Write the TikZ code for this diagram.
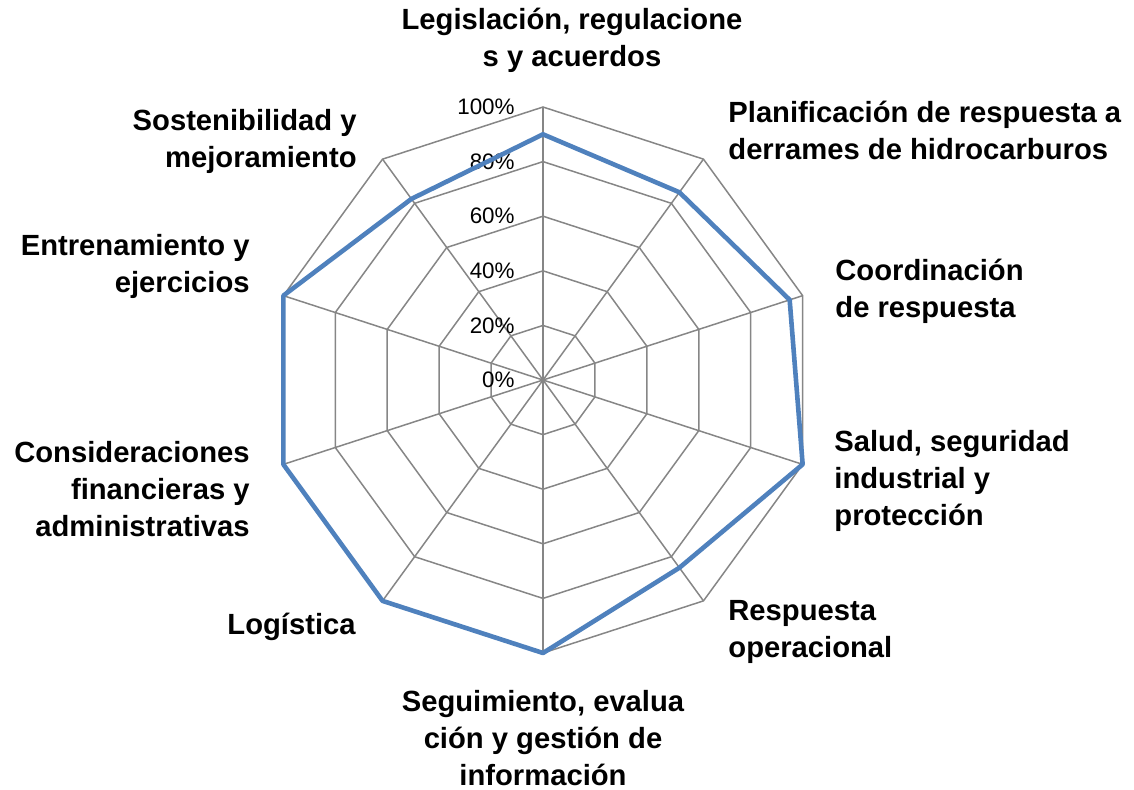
\documentclass[tikz,border=0pt]{standalone}
\usepackage{fontspec}
\setmainfont{Liberation Sans}
\usetikzlibrary{positioning,calc}
\definecolor{gridgray}{RGB}{134,134,134}
\definecolor{seriesblue}{RGB}{79,129,189}
\tikzset{
    ring/.style={
           draw=gridgray,
           line width=0.75pt,
           },
}
\tikzset{
    axislabel/.style={
           font=\bfseries\fontsize{14.6}{18.5}\selectfont,
           inner sep=0pt,
           align=left,
           },
}
\tikzset{
    pct/.style={
           font=\fontsize{11.2}{12}\selectfont,
           anchor=east,
           inner sep=0pt,
           },
}
\tikzset{
    series/.style={
           draw=seriesblue,
           line width=2.3pt,
           line join=round,
           },
}

\begin{document}
\begin{tikzpicture}[x=0.5pt,y=-0.5pt]
\useasboundingbox (0,0) rectangle (1134,789);
\coordinate (c) at (543,380);
% grid rings and spokes
\foreach \r in {1,...,5}{
  \draw[ring] ($(c)+(-90:54.6*\r)$)
    \foreach \k in {1,...,9}{ -- ($(c)+(-90+36*\k:54.6*\r)$) } -- cycle;
}
\foreach \k in {0,...,9}{
  \coordinate (ax\k) at ($(c)+(-90+36*\k:273)$);
  \draw[ring] (c) -- (ax\k);
}
% percent scale
\foreach \i/\v in {0/0,1/20,2/40,3/60,4/80,5/100}{
  \node[pct] (pct\v) at (515,380-54.6*\i) {\v\%};
}
% data
\foreach \k/\v in {0/90,1/85,2/95,3/100,4/85,5/100,6/100,7/100,8/100,9/82}{
  \coordinate (p\k) at ($(c)+(-90+36*\k:2.73*\v)$);
}
\draw[series] (p0) -- (p1) -- (p2) -- (p3) -- (p4) -- (p5) -- (p6) -- (p7) -- (p8) -- (p9) -- cycle;
% axis labels
\node[axislabel,align=center] (legis) at (572,40) {Legislación, regulacione\\s y acuerdos};
\node[axislabel,anchor=west] (plan) at (728,130) {Planificación de respuesta a\\derrames de hidrocarburos};
\node[axislabel,anchor=west] (coord) at (835,291) {Coordinación\\de respuesta};
\node[axislabel,anchor=west] (salud) at (834,481) {Salud, seguridad\\industrial y\\protección};
\node[axislabel,anchor=west] (oper) at (728,632) {Respuesta\\operacional};
\node[axislabel,align=center] (segui) at (543,738) {Seguimiento, evalua\\ción y gestión de\\información};
\node[axislabel,anchor=east] (logis) at (356,627) {Logística};
\node[axislabel,anchor=east,align=right] (finan) at (250,489) {Consideraciones\\financieras y\\administrativas};
\node[axislabel,anchor=east,align=right] (entre) at (250,266) {Entrenamiento y\\ejercicios};
\node[axislabel,anchor=east,align=right] (soste) at (357,141) {Sostenibilidad y\\mejoramiento};
\end{tikzpicture}
\end{document}
